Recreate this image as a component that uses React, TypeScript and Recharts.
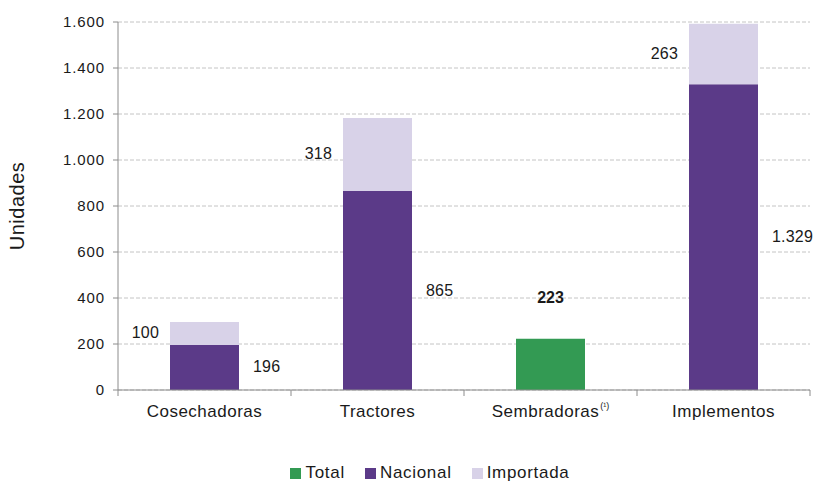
import { Bar, BarChart, CartesianGrid, LabelList, Legend, XAxis, YAxis } from "recharts";

const categories = ["Cosechadoras", "Tractores", "Sembradoras", "Implementos"];
const totalValues = [null, null, 223, null];
const nacionalValues = [196, 865, null, 1329];
const importadaValues = [100, 318, null, 263];
const yTicks = [0, 200, 400, 600, 800, 1000, 1200, 1400, 1600];

const COLORS = {
  total: "#339a53",
  nacional: "#5b3a88",
  importada: "#d8d2e8",
};

const FONT = "'Liberation Sans', Arial, sans-serif";

const data = categories.map((name, i) => ({
  name,
  total: totalValues[i],
  nacional: nacionalValues[i],
  importada: importadaValues[i],
}));

const fmt = (v: number) => String(v).replace(/\B(?=(\d{3})+(?!\d))/g, ".");

function CategoryTick(props: any) {
  const { x, y, payload, index } = props;
  const band = 173;
  const isSemb = payload.value === "Sembradoras";
  return (
    <g>
      <line x1={x - band / 2} x2={x - band / 2} y1={y - 8} y2={y - 2} stroke="#8c8c8c" />
      {index === categories.length - 1 ? (
        <line x1={x + band / 2} x2={x + band / 2} y1={y - 8} y2={y - 2} stroke="#8c8c8c" />
      ) : null}
      <text x={x} y={y + 19} textAnchor="middle" fontSize={17} letterSpacing={0.5} fill="#1a1a1a" fontFamily={FONT}>
        {payload.value}
        {isSemb ? (
          <tspan fontSize={9} dy={-8} dx={1} letterSpacing={0}>
            (¹)
          </tspan>
        ) : null}
      </text>
    </g>
  );
}

function SideLabel(props: any) {
  const { x, y, width, height, value, side } = props;
  if (value == null) return null;
  const tx = side === "left" ? x - 11 : x + width + 14;
  return (
    <text
      x={tx}
      y={y + height / 2}
      dy={5}
      textAnchor={side === "left" ? "end" : "start"}
      fontSize={16}
      letterSpacing={0.2}
      fill="#1a1a1a"
      fontFamily={FONT}
    >
      {fmt(value)}
    </text>
  );
}

function TotalLabel(props: any) {
  const { x, y, width, value } = props;
  if (value == null) return null;
  return (
    <text x={x + width / 2} y={y - 36} textAnchor="middle" fontSize={16} fontWeight="bold" fill="#1a1a1a" fontFamily={FONT}>
      {fmt(value)}
    </text>
  );
}

function LegendContent() {
  const items = [
    { label: "Total", color: COLORS.total },
    { label: "Nacional", color: COLORS.nacional },
    { label: "Importada", color: COLORS.importada },
  ];
  return (
    <div
      style={{
        display: "flex",
        justifyContent: "center",
        gap: 20,
        fontFamily: FONT,
        fontSize: 17,
        letterSpacing: 0.7,
        color: "#1a1a1a",
        lineHeight: "20px",
      }}
    >
      {items.map((it) => (
        <span key={it.label} style={{ display: "inline-flex", alignItems: "center" }}>
          <span style={{ width: 11, height: 11, background: it.color, display: "inline-block", marginRight: 4 }} />
          {it.label}
        </span>
      ))}
    </div>
  );
}

export default function App() {
  return (
    <div style={{ position: "absolute", left: 0, top: 0, background: "#fff" }}>
      <BarChart width={814} height={483} data={data} margin={{ top: 22, right: 4, bottom: 43, left: 50 }} barCategoryGap="20%">
        <CartesianGrid vertical={false} stroke="#c4c4c4" strokeDasharray="4 2" />
        <XAxis
          dataKey="name"
          tick={<CategoryTick />}
          tickLine={false}
          axisLine={{ stroke: "#8c8c8c" }}
          interval={0}
          height={30}
        />
        <YAxis
          domain={[0, 1600]}
          ticks={yTicks}
          tickFormatter={fmt}
          tick={{ fontSize: 15, fill: "#1a1a1a", fontFamily: FONT, letterSpacing: 0.9, dx: -6 }}
          tickLine={{ stroke: "#8c8c8c" }}
          tickSize={5}
          axisLine={{ stroke: "#8c8c8c" }}
          width={68}
          label={{
            value: "Unidades",
            angle: -90,
            position: "insideLeft",
            dx: -38,
            style: { fontSize: 20, fill: "#1a1a1a", fontFamily: FONT, textAnchor: "middle", letterSpacing: 0.5 },
          }}
        />
        <Legend verticalAlign="bottom" content={<LegendContent />} wrapperStyle={{ bottom: 0 }} />
        <Bar dataKey="total" name="Total" stackId="a" fill={COLORS.total} barSize={69} isAnimationActive={false}>
          <LabelList dataKey="total" content={<TotalLabel />} />
        </Bar>
        <Bar dataKey="nacional" name="Nacional" stackId="a" fill={COLORS.nacional} barSize={69} isAnimationActive={false}>
          <LabelList dataKey="nacional" content={<SideLabel side="right" />} />
        </Bar>
        <Bar dataKey="importada" name="Importada" stackId="a" fill={COLORS.importada} barSize={69} isAnimationActive={false}>
          <LabelList dataKey="importada" content={<SideLabel side="left" />} />
        </Bar>
      </BarChart>
    </div>
  );
}
